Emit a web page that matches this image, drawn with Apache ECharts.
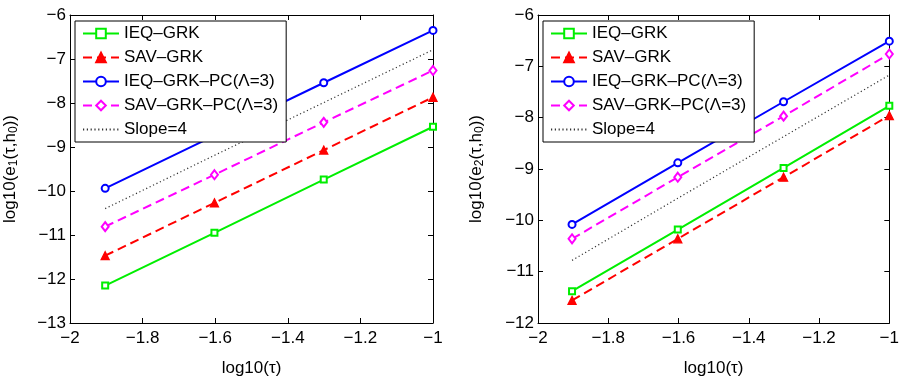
<!DOCTYPE html>
<html>
<head>
<meta charset="utf-8">
<script src="https://cdn.jsdelivr.net/npm/echarts@6/dist/echarts.min.js"></script>
<style>html,body{margin:0;padding:0;background:#fff}#c{width:902px;height:382px}</style>
</head>
<body>
<div id="c"></div>
<script>
// log10(tau) values
const xs = [-1.9031, -1.6021, -1.3010, -1.0];
const names = ['IEQ\u2013GRK', 'SAV\u2013GRK', 'IEQ\u2013GRK\u2013PC(\u039B=3)', 'SAV\u2013GRK\u2013PC(\u039B=3)', 'Slope=4'];
// Panel 1: log10(e1)
const e1_ieq = [-12.15, -10.95, -9.74, -8.54];
const e1_sav = [-11.47, -10.27, -9.07, -7.87];
const e1_ieqpc = [-9.94, -8.74, -7.54, -6.35];
const e1_savpc = [-10.81, -9.63, -8.44, -7.26];
const e1_slope = [-10.40, -9.19, -7.99, -6.79];
// Panel 2: log10(e2)
const e2_ieq = [-11.38, -10.18, -8.98, -7.77];
const e2_sav = [-11.56, -10.36, -9.16, -7.96];
const e2_ieqpc = [-10.08, -8.88, -7.69, -6.51];
const e2_savpc = [-10.36, -9.16, -7.97, -6.76];
const e2_slope = [-10.78, -9.57, -8.37, -7.17];
const xTicks = {min: -2, max: -1, interval: 0.2};
const y1Ticks = {min: -13, max: -6, interval: 1};
const y2Ticks = {min: -12, max: -6, interval: 1};

const FONT = 'Liberation Sans, Arial, Helvetica, sans-serif';
const FS = 17;
const minus = v => String(+v.toFixed(2)).replace('-', '\u2212');
const pairs = ys => xs.map((x, i) => [x, ys[i]]);

const styles = [
  {color: '#00ee00', type: 'solid', symbol: 'emptyRect', size: 6},
  {color: '#ff0000', type: [9, 5], symbol: 'triangle', size: 8},
  {color: '#0000ff', type: 'solid', symbol: 'emptyCircle', size: 7},
  {color: '#ff00ff', type: [9, 5], symbol: 'emptyDiamond', size: [7, 9]},
  {color: '#333333', type: [1.2, 2.6], symbol: 'circle', size: 0}
];

function mkSeries(idx, sets) {
  return sets.map((ys, k) => {
    const s = styles[k];
    return {
      name: names[k], type: 'line', xAxisIndex: idx * 2, yAxisIndex: idx * 2,
      data: pairs(ys), symbol: s.symbol, symbolSize: s.size, showSymbol: k !== 4,
      lineStyle: {color: s.color, width: k === 4 ? 1.2 : 2, type: s.type},
      itemStyle: {color: s.color, borderColor: s.color, borderWidth: 1.3},
      emphasis: {disabled: true}, animation: false, z: 5 - k
    };
  });
}

const grids = [
  {left: 70, right: 469, top: 15, bottom: 52},
  {left: 538, right: 2, top: 15, bottom: 52}
];

function xAxes(gi) {
  return [
    {type: 'value', gridIndex: gi, ...xTicks, position: 'bottom',
     name: 'log10(\u03C4)', nameLocation: 'middle', nameGap: 37,
     nameTextStyle: {fontFamily: FONT, fontSize: FS, color: '#000'},
     axisLine: {show: true, onZero: false, lineStyle: {color: '#000', width: 1}},
     axisTick: {show: true, inside: true, length: 5, lineStyle: {color: '#000'}},
     axisLabel: {formatter: minus, fontFamily: FONT, fontSize: FS, color: '#000', margin: 7},
     splitLine: {show: false}},
    {type: 'value', gridIndex: gi, ...xTicks, position: 'top',
     axisLine: {show: true, onZero: false, lineStyle: {color: '#000', width: 1}},
     axisTick: {show: true, inside: true, length: 5, lineStyle: {color: '#000'}},
     axisLabel: {show: false}, splitLine: {show: false}}
  ];
}
function yAxes(gi, t, sub, gap) {
  return [
    {type: 'value', gridIndex: gi, ...t, position: 'left',
     name: '{a|log10(e}{s|' + sub + '}{a|(\u03C4,h}{s|0}{a|))}', nameLocation: 'middle', nameGap: gap, nameRotate: 90,
     nameTextStyle: {fontFamily: FONT, fontSize: FS, color: '#000',
       rich: {a: {fontFamily: FONT, fontSize: FS, color: '#000'},
              s: {fontFamily: FONT, fontSize: 12, color: '#000', padding: [7, 0, 0, 0]}}},
     axisLine: {show: true, onZero: false, lineStyle: {color: '#000', width: 1}},
     axisTick: {show: true, inside: true, length: 5, lineStyle: {color: '#000'}},
     axisLabel: {formatter: minus, fontFamily: FONT, fontSize: FS, color: '#000', margin: 4},
     splitLine: {show: false}},
    {type: 'value', gridIndex: gi, ...t, position: 'right',
     axisLine: {show: true, onZero: false, lineStyle: {color: '#000', width: 1}},
     axisTick: {show: true, inside: true, length: 5, lineStyle: {color: '#000'}},
     axisLabel: {show: false}, splitLine: {show: false}}
  ];
}

function legend(left) {
  return {
    data: names.map((n, k) => k === 4 ? {name: n, itemStyle: {opacity: 0}} : {name: n}),
    orient: 'vertical', left: left, top: 21,
    backgroundColor: '#fff', borderColor: '#000', borderWidth: 1,
    padding: [4, 8, 4, 7], itemWidth: 36, itemHeight: 12, itemGap: 7,
    selectedMode: false,
    textStyle: {fontFamily: FONT, fontSize: FS, color: '#000', lineHeight: 17}
  };
}

const chart = echarts.init(document.getElementById('c'), null, {renderer: 'canvas'});
chart.setOption({
  backgroundColor: '#fff',
  animation: false,
  grid: grids,
  legend: [legend(75), legend(543)],
  xAxis: [...xAxes(0), ...xAxes(1)],
  yAxis: [...yAxes(0, y1Ticks, '1', 50), ...yAxes(1, y2Ticks, '2', 52)],
  series: [
    ...mkSeries(0, [e1_ieq, e1_sav, e1_ieqpc, e1_savpc, e1_slope]),
    ...mkSeries(1, [e2_ieq, e2_sav, e2_ieqpc, e2_savpc, e2_slope])
  ]
});
</script>
</body>
</html>
